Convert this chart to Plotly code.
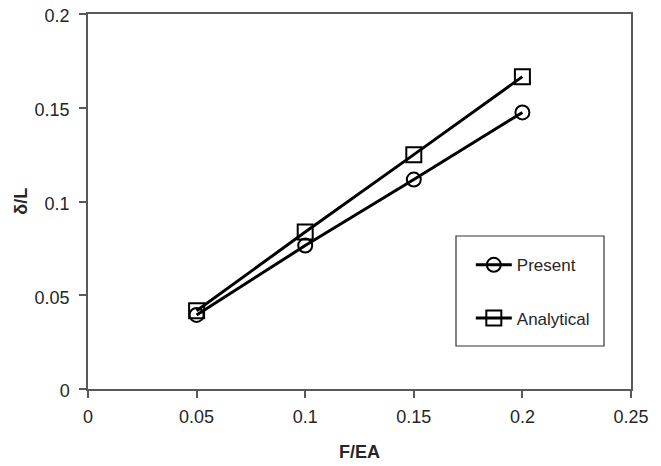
import plotly.graph_objects as go

x_vals = [0.05, 0.1, 0.15, 0.2]
present = [0.0395, 0.0765, 0.1117, 0.1475]
analytical = [0.0417, 0.0837, 0.1250, 0.1666]
x_ticks = [0, 0.05, 0.1, 0.15, 0.2, 0.25]
y_ticks = [0, 0.05, 0.1, 0.15, 0.2]

FONT = "Liberation Sans, Arial, sans-serif"
TXT = "#262626"

fig = go.Figure()
fig.add_trace(go.Scatter(
    x=x_vals, y=present, name="Present", mode="lines+markers",
    line=dict(color="black", width=3),
    marker=dict(symbol="circle-open", size=14, color="black", line=dict(width=2)),
    legendgroup="a",
))
fig.add_trace(go.Scatter(
    x=x_vals, y=analytical, name="Analytical", mode="lines+markers",
    line=dict(color="black", width=3),
    marker=dict(symbol="square-open", size=15, color="black", line=dict(width=2)),
    legendgroup="b",
))

axis_common = dict(
    showline=True, linecolor="#595959", linewidth=1.5, mirror=True,
    ticks="outside", ticklen=7, tickcolor="#595959", tickwidth=1.5,
    showgrid=False, zeroline=False, automargin=False,
    ticklabeloverflow="allow",
    tickfont=dict(family=FONT, size=18, color=TXT),
)

fig.update_layout(
    width=653, height=458,
    margin=dict(l=80, r=30, t=6, b=77),
    paper_bgcolor="white", plot_bgcolor="white",
    xaxis=dict(range=[0, 0.25], tickvals=x_ticks, ticktext=[str(v) for v in x_ticks],
               ticklabelstandoff=4, **axis_common),
    yaxis=dict(range=[0, 0.2], tickvals=y_ticks, ticktext=[str(v) for v in y_ticks],
               ticklabelstandoff=6, ticklabelshift=2, **axis_common),
    legend=dict(
        x=0.705, y=0.378, xanchor="left", yanchor="top",
        borderwidth=0, bgcolor="rgba(0,0,0,0)",
        font=dict(family=FONT, size=17, color=TXT),
        traceorder="grouped", tracegroupgap=28,
        itemwidth=36,
    ),
    showlegend=True,
    shapes=[
        dict(type="rect", xref="paper", yref="paper", x0=0.6777, x1=0.9503,
             y0=0.1147, y1=0.408, line=dict(color="#333", width=1.2),
             fillcolor="white", layer="below"),
    ],
    annotations=[
        dict(text="<b>F/EA</b>", xref="paper", yref="paper", x=0.5, y=-0.168,
             xanchor="center", yanchor="middle", showarrow=False,
             font=dict(family=FONT, size=18, color=TXT)),
        dict(text="<b>δ/L</b>", xref="paper", yref="paper", x=-0.125, y=0.5,
             xanchor="center", yanchor="middle", showarrow=False, textangle=-90,
             font=dict(family=FONT, size=18, color=TXT)),
    ],
)

fig.write_html("out.html")
